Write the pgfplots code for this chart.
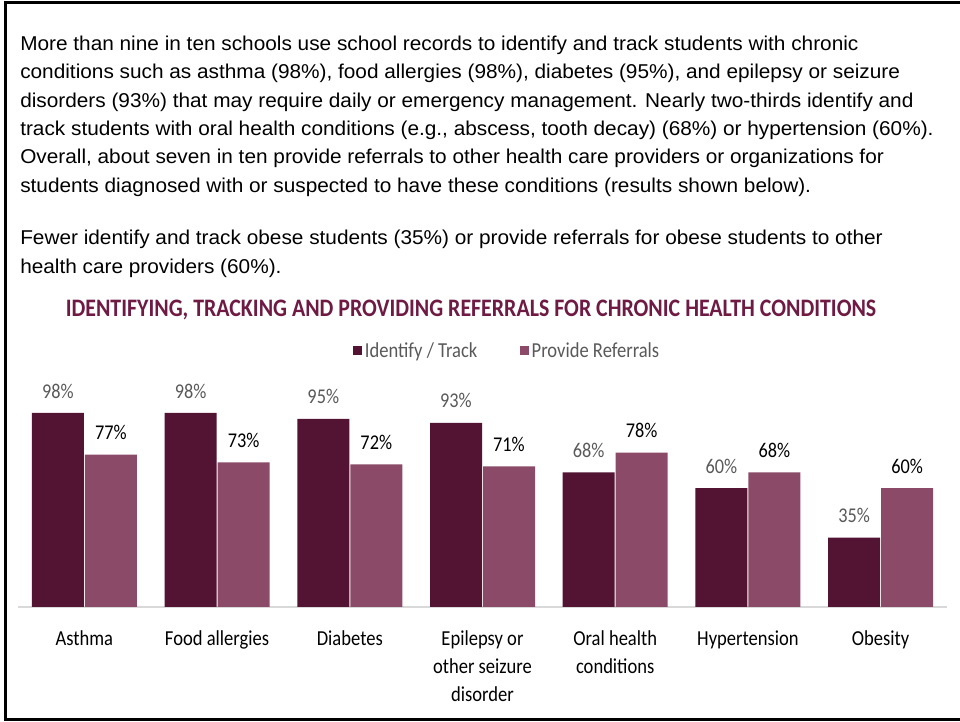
\documentclass[border=0pt]{standalone}
\usepackage{fontspec}
\setmainfont[FakeStretch=1.04]{Liberation Sans}
\newfontfamily\chartf[FakeStretch=0.87]{Carlito}
\usepackage{pgfplots}
\pgfplotsset{compat=1.18}
\definecolor{darkbar}{HTML}{521432}
\definecolor{lightbar}{HTML}{8B4A67}
\definecolor{titlec}{HTML}{6E1A43}
\definecolor{labgray}{HTML}{595959}
\definecolor{axisgray}{HTML}{D9D9D9}
\begin{document}
\begin{tikzpicture}
\path[use as bounding box] (0,0) rectangle (720pt,540.75pt);
\draw[line width=2.25pt, line join=miter] (721pt,538.9pt) -- (4.1pt,538.9pt) -- (4.1pt,1.1pt) -- (721pt,1.1pt);
\begin{scope}[every node/.style={anchor=base west, inner sep=0pt, font=\fontsize{15}{18}\selectfont}]
\node at (15pt,502.7pt) {More than nine in ten schools use school records to identify and track students with chronic};
\node at (15pt,481.5pt) {conditions such as asthma (98\%), food allergies (98\%), diabetes (95\%), and epilepsy or seizure};
\node at (15pt,460.3pt) {disorders (93\%) that may require daily or emergency management. Nearly two-thirds identify and};
\node at (15pt,439.05pt) {track students with oral health conditions (e.g., abscess, tooth decay) (68\%) or hypertension (60\%).};
\node at (15pt,417.8pt) {Overall, about seven in ten provide referrals to other health care providers or organizations for};
\node at (15pt,396.6pt) {students diagnosed with or suspected to have these conditions (results shown below).};
\node at (15pt,357pt) {Fewer identify and track obese students (35\%) or provide referrals for obese students to other};
\node at (15pt,335.8pt) {health care providers (60\%).};
\end{scope}
\node[anchor=base, inner sep=0pt, font=\chartf\bfseries\fontsize{18.85}{22}\selectfont, text=titlec] at (353.25pt,303pt) {IDENTIFYING, TRACKING AND PROVIDING REFERRALS FOR CHRONIC HEALTH CONDITIONS};
\begin{axis}[
 at={(13.5pt,85.5pt)}, anchor=south west,
 width=696.75pt, height=148.5pt, scale only axis,
 xmin=-0.5, xmax=6.5, ymin=0, ymax=100,
 ybar, bar width=39pt,
 hide y axis,
 axis x line*=bottom,
 x axis line style={draw=axisgray, line width=1pt, -},
 xtick={0,1,2,3,4,5,6},
 xticklabels={Asthma, Food allergies, Diabetes, {Epilepsy or\\other seizure\\disorder}, {Oral health\\conditions}, Hypertension, Obesity},
 xticklabel style={align=center, font=\chartf\fontsize{16}{21}\selectfont, anchor=north, yshift=-14pt, text=black},
 major tick length=0pt,
 clip=false,
 point meta=y,
 /pgf/number format/assume math mode=true,
 nodes near coords={\pgfmathprintnumber{\pgfplotspointmeta}\%},
 nodes near coords style={anchor=base, yshift=11.2pt, font=\chartf\fontsize{15.75}{18}\selectfont, inner sep=0pt},
 legend image code/.code={\fill[#1] (-3.75pt,-3.375pt) rectangle (3pt,3.375pt);},
 legend style={at={(0.527,1.293)}, anchor=center, draw=none, fill=none, legend columns=2,
   font=\chartf\fontsize{16}{18}\selectfont, text=labgray,
   /tikz/every even column/.append style={column sep=30pt}},
]
\addplot[fill=darkbar, draw=none, bar shift=-19.875pt, nodes near coords style={text=labgray}] coordinates {(0,98) (1,98) (2,95) (3,93) (4,68) (5,60) (6,35)};
\addplot[fill=lightbar, draw=none, bar shift=19.875pt, nodes near coords style={text=black}] coordinates {(0,77) (1,73) (2,72) (3,71) (4,78) (5,68) (6,60)};
\legend{Identify / Track, Provide Referrals}
\end{axis}
\end{tikzpicture}
\end{document}
